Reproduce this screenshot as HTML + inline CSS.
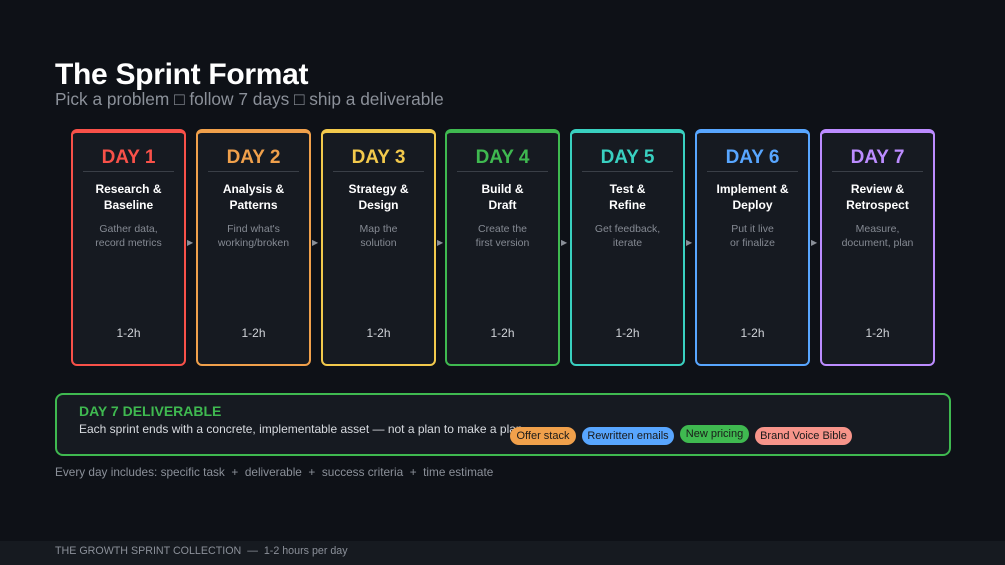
<!DOCTYPE html>
<html><head><meta charset="utf-8"><style>
*{margin:0;padding:0;box-sizing:border-box}
body{width:1005px;height:565px;background:#0e1117;font-family:"Liberation Sans",sans-serif;position:relative;overflow:hidden;color:#e6e6e6}
.a{position:absolute}
h1{position:absolute;left:55px;top:58px;font-size:30px;font-weight:bold;color:#fff;letter-spacing:-0.3px}
.sub{left:55px;top:89px;font-size:17.3px;color:#8b9099}
.card{position:absolute;top:129px;width:115px;height:237px;border:2px solid;border-top-width:4px;border-radius:6px;background:#161a21;text-align:center}
.card .d{margin-top:14px;font-size:19px;font-weight:bold;height:22px;line-height:22px}
.card .hr{margin:2px 10px 0;height:1px;background:#3a3f47}
.card .t{margin-top:9px;font-size:12px;font-weight:bold;color:#fff;line-height:16px}
.card .s{margin-top:9px;font-size:10.5px;color:#858a93;line-height:14px}
.card .h{position:absolute;left:0;right:0;top:193px;font-size:12px;color:#d0d3d8}
.arr{position:absolute;top:238px;font-size:8px;color:#8a8f98}
.box{left:55px;top:393px;width:896px;height:63px;border:2px solid #3fb950;border-radius:8px;background:#161a21}
.pill{position:absolute;height:18px;border-radius:9px;font-size:11px;color:#1a1a1a;line-height:18px;text-align:center}
</style></head><body>
<h1>The Sprint Format</h1>
<div class="a sub">Pick a problem □ follow 7 days □ ship a deliverable</div>

<div class="card" style="left:71px;border-color:#f85149"><div class="d" style="color:#f85149">DAY 1</div><div class="hr"></div><div class="t">Research &amp;<br>Baseline</div><div class="s">Gather data,<br>record metrics</div><div class="h">1-2h</div></div>
<div class="card" style="left:196px;border-color:#f0a04b"><div class="d" style="color:#f0a04b">DAY 2</div><div class="hr"></div><div class="t">Analysis &amp;<br>Patterns</div><div class="s">Find what's<br>working/broken</div><div class="h">1-2h</div></div>
<div class="card" style="left:321px;border-color:#f2c94c"><div class="d" style="color:#f2c94c">DAY 3</div><div class="hr"></div><div class="t">Strategy &amp;<br>Design</div><div class="s">Map the<br>solution</div><div class="h">1-2h</div></div>
<div class="card" style="left:445px;border-color:#3fb950"><div class="d" style="color:#3fb950">DAY 4</div><div class="hr"></div><div class="t">Build &amp;<br>Draft</div><div class="s">Create the<br>first version</div><div class="h">1-2h</div></div>
<div class="card" style="left:570px;border-color:#39d0c0"><div class="d" style="color:#39d0c0">DAY 5</div><div class="hr"></div><div class="t">Test &amp;<br>Refine</div><div class="s">Get feedback,<br>iterate</div><div class="h">1-2h</div></div>
<div class="card" style="left:695px;border-color:#58a6ff"><div class="d" style="color:#58a6ff">DAY 6</div><div class="hr"></div><div class="t">Implement &amp;<br>Deploy</div><div class="s">Put it live<br>or finalize</div><div class="h">1-2h</div></div>
<div class="card" style="left:820px;border-color:#bc8cff"><div class="d" style="color:#bc8cff">DAY 7</div><div class="hr"></div><div class="t">Review &amp;<br>Retrospect</div><div class="s">Measure,<br>document, plan</div><div class="h">1-2h</div></div>

<div class="arr" style="left:187px">▶</div>
<div class="arr" style="left:312px">▶</div>
<div class="arr" style="left:437px">▶</div>
<div class="arr" style="left:561px">▶</div>
<div class="arr" style="left:686px">▶</div>
<div class="arr" style="left:811px">▶</div>

<div class="a box"></div>
<div class="a" style="left:79px;top:403px;font-size:14px;font-weight:bold;color:#3fb950">DAY 7 DELIVERABLE</div>
<div class="a" style="left:79px;top:422px;font-size:12px;color:#d8dbe0">Each sprint ends with a concrete, implementable asset — not a plan to make a plan</div>
<div class="pill" style="left:510px;top:427px;width:66px;background:#f0a04b">Offer stack</div>
<div class="pill" style="left:582px;top:427px;width:92px;background:#58a6ff">Rewritten emails</div>
<div class="pill" style="left:680px;top:425px;width:69px;background:#3fb950">New pricing</div>
<div class="pill" style="left:755px;top:427px;width:97px;background:#f7948a">Brand Voice Bible</div>

<div class="a" style="left:55px;top:465px;font-size:11.8px;color:#8b9099;white-space:nowrap">Every day includes: specific task &nbsp;+&nbsp; deliverable &nbsp;+&nbsp; success criteria &nbsp;+&nbsp; time estimate</div>

<div class="a" style="left:0;top:541px;width:1005px;height:24px;background:#161a20"></div>
<div class="a" style="left:55px;top:545px;font-size:10.7px;color:#8b9099">THE GROWTH SPRINT COLLECTION &nbsp;— &nbsp;1-2 hours per day</div>
</body></html>
